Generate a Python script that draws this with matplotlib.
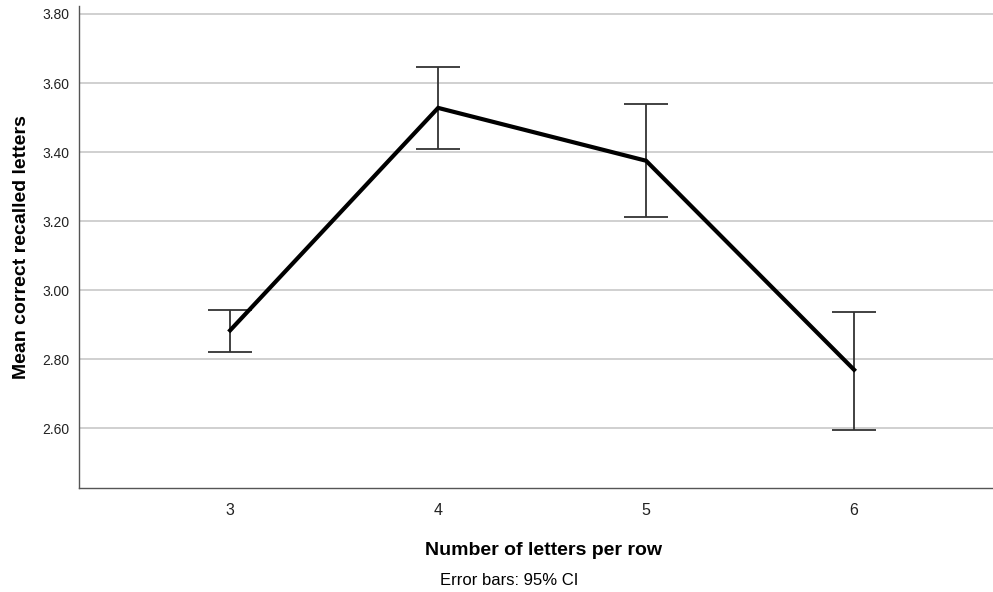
import matplotlib
matplotlib.use("Agg")
import matplotlib.pyplot as plt
import numpy as np

# Mean recalled letters by letters per row, with 95% CI
letras_por_fila = [3, 4, 5, 6]
media = [2.884, 3.528, 3.375, 2.770]
ic_inferior = [2.820, 3.409, 3.211, 2.597]
ic_superior = [2.942, 3.645, 3.540, 2.938]
y_ticks = [2.60, 2.80, 3.00, 3.20, 3.40, 3.60, 3.80]

plt.rcParams['font.family'] = ['Liberation Sans', 'DejaVu Sans']

fig = plt.figure(figsize=(9.93, 5.92), dpi=100)
ax = fig.add_axes([0.080, 0.1762, 0.92, 0.8137])

media = np.array(media)
err = [media - np.array(ic_inferior), np.array(ic_superior) - media]

ax.errorbar(letras_por_fila, media, yerr=err, fmt='none', ecolor='#333333',
            elinewidth=1.3, capsize=16, capthick=1.3, zorder=3)
ax.plot(letras_por_fila, media, color='black', linewidth=3.0, zorder=4,
        solid_joinstyle='miter')

ax.set_xlim(2.2755, 6.668)
ax.set_ylim(2.4286, 3.823)
ax.set_xticks(letras_por_fila)
ax.set_yticks(y_ticks)
ax.set_yticklabels([f'{v:.2f}' for v in y_ticks])
ax.yaxis.grid(True, color='#c8c8c8', linewidth=1.2)
ax.set_axisbelow(True)
ax.tick_params(axis='both', length=0)
ax.tick_params(axis='y', labelsize=10, pad=7, labelcolor='#222222')
ax.tick_params(axis='x', labelsize=11.5, pad=11, labelcolor='#222222')

for s in ['top', 'right']:
    ax.spines[s].set_visible(False)
for s in ['left', 'bottom']:
    ax.spines[s].set_color('#555555')
    ax.spines[s].set_linewidth(1.0)

ax.set_ylabel('Mean correct recalled letters', fontsize=14, fontweight='bold', labelpad=9)
ax.set_xlabel('Number of letters per row', fontsize=14, fontweight='bold', labelpad=16)
ax.xaxis.set_label_coords(0.5075, -0.112)
fig.text(0.5125, 0.0186, 'Error bars: 95% CI', fontsize=12, ha='center', va='center')

fig.savefig('out.png', dpi=100)
